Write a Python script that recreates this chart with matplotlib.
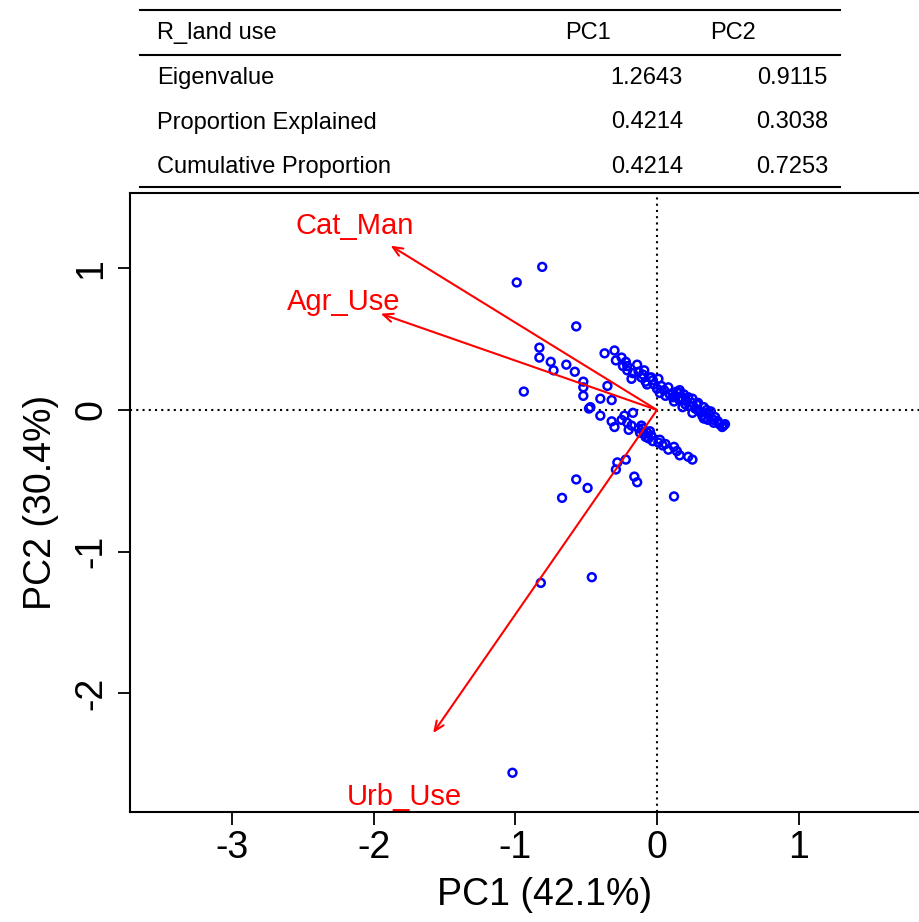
import matplotlib
matplotlib.use('Agg')
import matplotlib.pyplot as plt
import numpy as np

plt.rcParams['font.family'] = ['Liberation Sans', 'DejaVu Sans']

# summary table
TABLE_HEAD = ["R_land use", "PC1", "PC2"]
ROW_NAMES  = ["Eigenvalue", "Proportion Explained", "Cumulative Proportion"]
PC1_VALS   = ["1.2643", "0.4214", "0.4214"]
PC2_VALS   = ["0.9115", "0.3038", "0.7253"]

# site scores
PC1_SCORES = [
    -0.81, -0.99, -0.57, -0.83, -0.83, -0.75, -0.73, -0.64, -0.58, -0.94,
    -0.52, -0.52, -0.52, -0.35, -0.40, -0.32, -0.48, -0.47, -0.40, -0.17,
    -0.23, -0.25, -0.32, -0.30, -0.20, -0.18, -0.21,
    -0.37, -0.30, -0.29, -0.25, -0.22, -0.24, -0.21, -0.14, -0.21, -0.17,
    -0.09, -0.18, -0.11, -0.08, -0.05, -0.07, -0.13, -0.10, -0.03, -0.04,
    0.01, 0.00, 0.02, 0.05, 0.08, 0.11, 0.11, 0.14, 0.16, 0.18,
    0.21, 0.25, 0.29, 0.33, 0.35, 0.37, 0.41, 0.43, 0.46, 0.47,
    0.18, 0.25, 0.34, 0.40, 0.30, 0.13, 0.16, 0.19, 0.20, 0.23,
    0.27, 0.22, 0.09, 0.06, 0.32, 0.38, 0.44, 0.48, 0.36, 0.28,
    0.12, 0.15, 0.03, -0.02, 0.16, 0.25, 0.29, 0.35, 0.40, 0.33,
    -0.13, -0.10, -0.12, -0.07, -0.05, -0.08, -0.06, -0.03, 0.01, 0.04,
    0.08, 0.12, 0.14, 0.16, 0.22, 0.25, -0.09, -0.04, 0.02, 0.06, -0.11,
    -0.28, -0.29, -0.22, -0.16, -0.14, -0.57, -0.49, -0.67, 0.12,
    -0.46, -0.82, -1.02,
]
PC2_SCORES = [
    1.01, 0.90, 0.59, 0.44, 0.37, 0.34, 0.28, 0.32, 0.27, 0.13,
    0.20, 0.16, 0.10, 0.17, 0.08, 0.07, 0.01, 0.02, -0.04, -0.02,
    -0.04, -0.07, -0.08, -0.12, -0.14, -0.11, -0.09,
    0.40, 0.42, 0.35, 0.37, 0.34, 0.31, 0.31, 0.32, 0.28, 0.26,
    0.28, 0.22, 0.23, 0.20, 0.23, 0.18, 0.27, 0.25, 0.21, 0.23,
    0.22, 0.15, 0.12, 0.14, 0.16, 0.09, 0.12, 0.13, 0.12, 0.08,
    0.06, 0.08, 0.05, 0.02, 0.00, -0.03, -0.05, -0.08, -0.12, -0.11,
    0.02, -0.02, -0.06, -0.09, -0.01, 0.10, 0.14, 0.11, 0.04, 0.03,
    0.01, 0.09, 0.11, 0.10, -0.04, -0.01, -0.10, -0.10, -0.07, 0.04,
    0.06, 0.08, 0.17, 0.18, 0.07, 0.05, 0.00, -0.02, -0.07, -0.06,
    -0.13, -0.13, -0.16, -0.16, -0.15, -0.19, -0.20, -0.22, -0.23, -0.25,
    -0.28, -0.26, -0.29, -0.32, -0.33, -0.35, -0.17, -0.18, -0.21, -0.24, -0.11,
    -0.37, -0.42, -0.35, -0.47, -0.51, -0.49, -0.55, -0.62, -0.61,
    -1.18, -1.22, -2.56,
]

# variable loadings (arrow tips) and label spots
VAR_NAMES = ["Cat_Man", "Agr_Use", "Urb_Use"]
VAR_PC1   = [-1.88, -1.95, -1.58]
VAR_PC2   = [1.16, 0.68, -2.28]
LAB_PC1   = [-2.13, -2.21, -1.78]
LAB_PC2   = [1.30, 0.76, -2.73]

W, H = 919, 922
fig = plt.figure(figsize=(W / 100, H / 100), dpi=100)

# table drawn in pixel space
tax = fig.add_axes([0, 0, 1, 1])
tax.set_xlim(0, W)
tax.set_ylim(H, 0)
tax.axis('off')
for yl in (10, 55, 187):
    tax.plot([140, 840], [yl, yl], color='black', lw=1.5)
tfs = 17
tax.text(157, 33, TABLE_HEAD[0], fontsize=tfs, va='center', ha='left')
tax.text(588, 33, TABLE_HEAD[1], fontsize=tfs, va='center', ha='center')
tax.text(733, 33, TABLE_HEAD[2], fontsize=tfs, va='center', ha='center')
for i, (name, v1, v2) in enumerate(zip(ROW_NAMES, PC1_VALS, PC2_VALS)):
    yy = 78 + i * 44.5
    tax.text(157, yy, name, fontsize=tfs, va='center', ha='left')
    tax.text(683, yy, v1, fontsize=tfs, va='center', ha='right')
    tax.text(828, yy, v2, fontsize=tfs, va='center', ha='right')

# biplot axes, right edge runs off the figure
left, right, top, bottom = 130, 960, 193, 812
ax = fig.add_axes([left / W, 1 - bottom / H, (right - left) / W, (bottom - top) / H])
ppu = 141.7
x0, y0 = 657, 410
ax.set_xlim((left - x0) / ppu, (right - x0) / ppu)
ax.set_ylim((y0 - bottom) / ppu, (y0 - top) / ppu)
ax.set_facecolor('none')

ax.axhline(0, color='black', ls=(0, (1, 2)), lw=1.5, zorder=1)
ax.axvline(0, color='black', ls=(0, (1, 2)), lw=1.5, zorder=1)

ax.scatter(PC1_SCORES, PC2_SCORES, s=32, facecolors='none', edgecolors='blue',
           linewidths=1.8, zorder=3)

for name, vx, vy, lx, ly in zip(VAR_NAMES, VAR_PC1, VAR_PC2, LAB_PC1, LAB_PC2):
    ax.annotate("", xy=(vx, vy), xytext=(0, 0),
                arrowprops=dict(arrowstyle='->,head_length=0.7,head_width=0.3',
                                color='red', lw=1.5, shrinkA=0, shrinkB=0),
                zorder=4)
    ax.text(lx, ly, name, color='red', fontsize=21, ha='center', va='center',
            zorder=5)

ax.set_xticks([-3, -2, -1, 0, 1])
ax.set_yticks([-2, -1, 0, 1])
ax.set_xticklabels(['-3', '-2', '-1', '0', '1'])
ax.set_yticklabels(['-2', '-1', '0', '1'], rotation=90, va='center')
ax.tick_params(labelsize=27, length=9, width=1.3, pad=4)
ax.tick_params(axis='y', pad=6)
ax.set_xlabel("PC1 (42.1%)", fontsize=27, labelpad=8)
ax.set_ylabel("PC2 (30.4%)", fontsize=27, labelpad=10)
for s in ('left', 'top', 'bottom'):
    ax.spines[s].set_linewidth(1.5)
ax.spines['right'].set_visible(False)

fig.savefig("out.png", dpi=100)
